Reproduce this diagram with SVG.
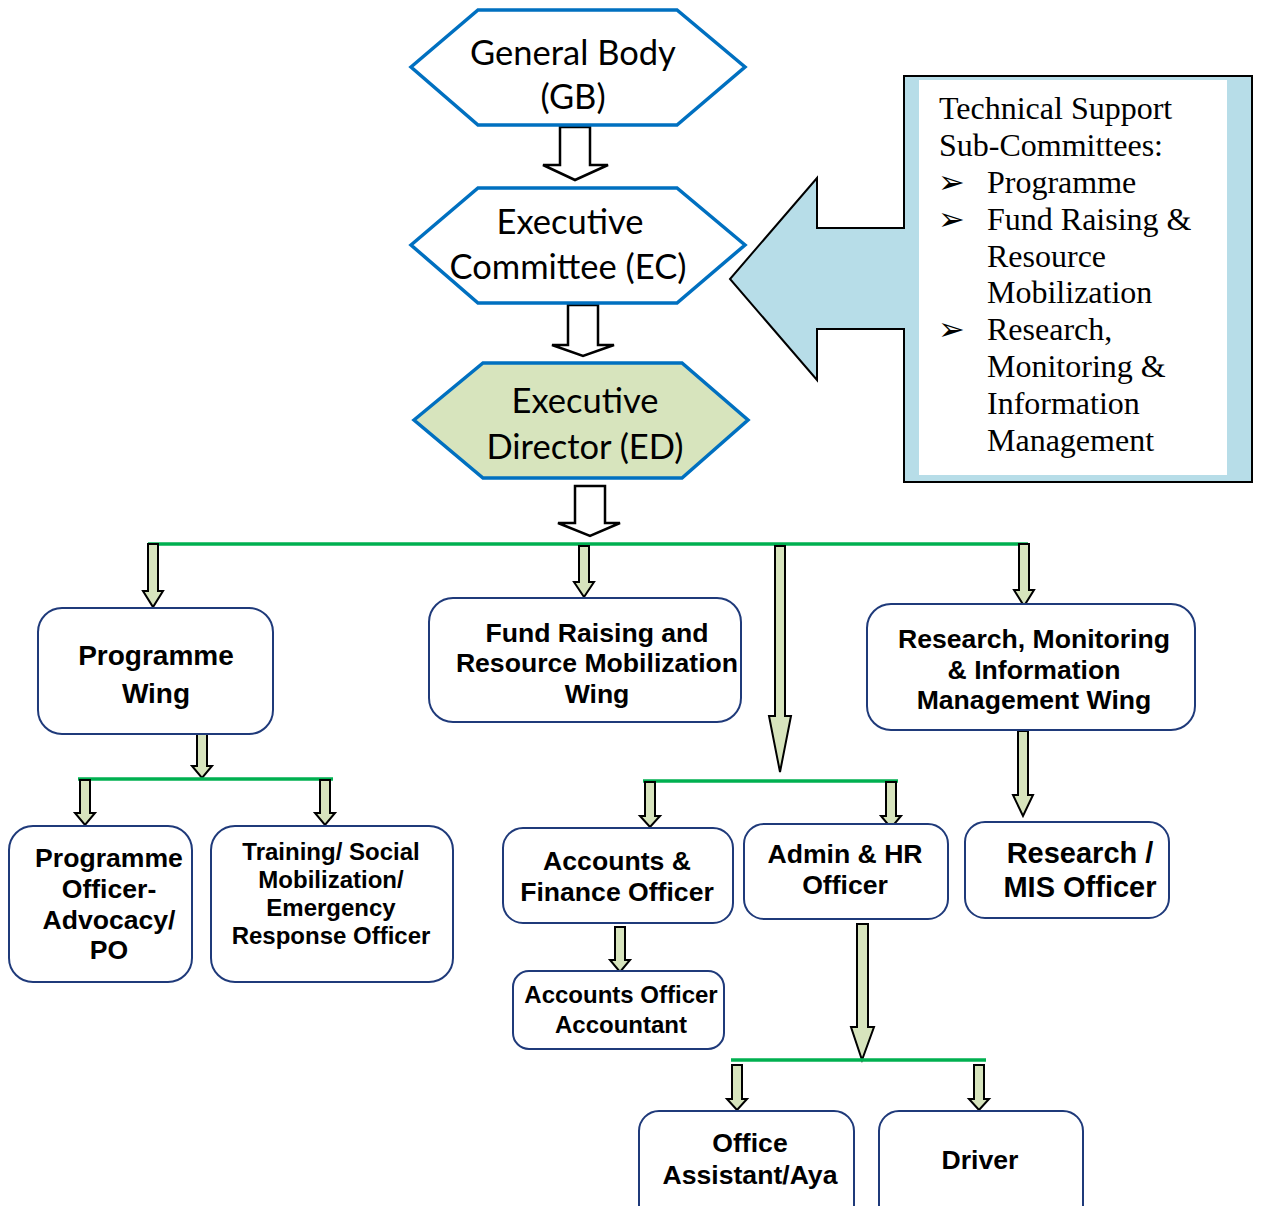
<svg xmlns="http://www.w3.org/2000/svg" width="1261" height="1206" viewBox="0 0 1261 1206">
<style>
.hex{stroke:#0070c0;stroke-width:3.5;fill:#fff}
.hexg{fill:#d7e4bd}
.ht{font-family:Lato,"Open Sans",sans-serif;font-size:34.5px;text-anchor:middle;fill:#000}
.box{fill:#fff;stroke:#1f3a7a;stroke-width:2}
.bt{font-family:"Liberation Sans",Arial,sans-serif;font-weight:bold;font-size:26.6px;text-anchor:middle;fill:#000}
.s24{font-size:24px}
.s28{font-size:28px}
.s29{font-size:29px}
.hol{fill:#fff;stroke:#000;stroke-width:2.5}
.garr{fill:#d7e4bd;stroke:#000;stroke-width:2}
.gl{stroke:#00b050;stroke-width:3.5;fill:none}
.tt{font-family:"Liberation Serif","Times New Roman",serif;font-size:32px;fill:#000}
.bul{font-family:"DejaVu Sans",sans-serif;font-size:32px;fill:#000}
</style>
<g id="connectors">
<path class="hol" d="M560,127 H590 V165 H608 L575,180 L543,165 H560 Z"/>
<path class="hol" d="M568,305 H598 V345 H614 L583,356 L552,345 H568 Z"/>
<path class="hol" d="M575,486 H605 V523 H620 L590,536 L558,523 H575 Z"/>
<line class="gl" x1="148" y1="544" x2="1028" y2="544"/>
<path class="garr" d="M148,544 H158 V591 H163 L153,607 L143,591 H148 Z"/>
<path class="garr" d="M579,546 H589 V582 H594 L584,597 L574,582 H579 Z"/>
<path class="garr" d="M775,546 H785 V716 H791 L780,772 L769,716 H775 Z"/>
<path class="garr" d="M1019,544 H1029 V590 H1034 L1024,606 L1014,590 H1019 Z"/>
<path class="garr" d="M197,734 H207 V766 H212 L202,778 L192,766 H197 Z"/>
<line class="gl" x1="78" y1="779" x2="333" y2="779"/>
<path class="garr" d="M80,780 H90 V813 H95 L85,825 L75,813 H80 Z"/>
<path class="garr" d="M320,780 H330 V813 H335 L325,825 L315,813 H320 Z"/>
<line class="gl" x1="643" y1="781" x2="898" y2="781"/>
<path class="garr" d="M645,782 H655 V816 H660 L650,827 L640,816 H645 Z"/>
<path class="garr" d="M886,782 H896 V816 H901 L891,828 L881,816 H886 Z"/>
<path class="garr" d="M615,927 H625 V960 H630 L620,972 L610,960 H615 Z"/>
<path class="garr" d="M857,924 H868 V1027 H874 L862,1060 L851,1027 H857 Z"/>
<line class="gl" x1="731" y1="1060" x2="986" y2="1060"/>
<path class="garr" d="M732,1065 H742 V1099 H747 L737,1110 L727,1099 H732 Z"/>
<path class="garr" d="M974,1065 H984 V1099 H989 L979,1110 L969,1099 H974 Z"/>
<path class="garr" d="M1018,731 H1028 V795 H1033 L1023,816 L1013,795 H1018 Z"/>
</g>
<g id="gb">
<polygon class="hex" points="411,67 478,10 677,10 745,67 677,125 478,125"/>
<text class="ht" x="573" y="65">General Body</text>
<text class="ht" x="573" y="109">(GB)</text>
</g>
<g id="ec">
<polygon class="hex" points="411,245 478,188 677,188 745,245 677,303 478,303"/>
<text class="ht" x="570" y="234">Executive</text>
<text class="ht" x="568" y="279">Committee (EC)</text>
</g>
<g id="ed">
<polygon class="hex hexg" points="414,420 483,363 682,363 748,420 682,478 483,478"/>
<text class="ht" x="585" y="413">Executive</text>
<text class="ht" x="585" y="459">Director (ED)</text>
</g>
<g id="tech-support">
<path d="M904,76 H1252 V482 H904 V329 H817 V380 L730,279 L817,178 V228 H904 Z" fill="#b7dde8" stroke="#000" stroke-width="2"/>
<rect x="919" y="80" width="308" height="395" fill="#fff"/>
<text class="tt" x="939" y="119">Technical Support</text>
<text class="tt" x="939" y="156">Sub-Committees:</text>
<text class="bul" x="938" y="193">➢</text>
<text class="tt" x="987" y="193">Programme</text>
<text class="bul" x="938" y="230">➢</text>
<text class="tt" x="987" y="230">Fund Raising &amp;</text>
<text class="tt" x="987" y="267">Resource</text>
<text class="tt" x="987" y="303">Mobilization</text>
<text class="bul" x="938" y="340">➢</text>
<text class="tt" x="987" y="340">Research,</text>
<text class="tt" x="987" y="377">Monitoring &amp;</text>
<text class="tt" x="987" y="414">Information</text>
<text class="tt" x="987" y="451">Management</text>
</g>
<g id="programme-wing">
<rect class="box" x="38" y="608" width="235" height="126" rx="24"/>
<text class="bt s28" x="156" y="665">Programme</text>
<text class="bt s28" x="156" y="703">Wing</text>
</g>
<g id="fund-raising-wing">
<rect class="box" x="429" y="598" width="312" height="124" rx="24"/>
<text class="bt" x="597" y="642">Fund Raising and</text>
<text class="bt" x="597" y="672">Resource Mobilization</text>
<text class="bt" x="597" y="703">Wing</text>
</g>
<g id="research-wing">
<rect class="box" x="867" y="604" width="328" height="126" rx="24"/>
<text class="bt" x="1034" y="648">Research, Monitoring</text>
<text class="bt" x="1034" y="679">&amp; Information</text>
<text class="bt" x="1034" y="709">Management Wing</text>
</g>
<g id="programme-officer">
<rect class="box" x="9" y="826" width="183" height="156" rx="24"/>
<text class="bt" x="109" y="867">Programme</text>
<text class="bt" x="109" y="898">Officer-</text>
<text class="bt" x="109" y="929">Advocacy/</text>
<text class="bt" x="109" y="959">PO</text>
</g>
<g id="training-officer">
<rect class="box" x="211" y="826" width="242" height="156" rx="24"/>
<text class="bt s24" x="331" y="860">Training/ Social</text>
<text class="bt s24" x="331" y="888">Mobilization/</text>
<text class="bt s24" x="331" y="916">Emergency</text>
<text class="bt s24" x="331" y="944">Response Officer</text>
</g>
<g id="accounts-finance">
<rect class="box" x="503" y="828" width="230" height="95" rx="20"/>
<text class="bt" x="617" y="870">Accounts &amp;</text>
<text class="bt" x="617" y="901">Finance Officer</text>
</g>
<g id="admin-hr">
<rect class="box" x="744" y="824" width="204" height="95" rx="20"/>
<text class="bt" x="845" y="863">Admin &amp; HR</text>
<text class="bt" x="845" y="894">Officer</text>
</g>
<g id="accounts-officer">
<rect class="box" x="513" y="971" width="211" height="78" rx="16"/>
<text class="bt s24" x="621" y="1003">Accounts Officer</text>
<text class="bt s24" x="621" y="1033">Accountant</text>
</g>
<g id="research-mis">
<rect class="box" x="965" y="822" width="204" height="96" rx="20"/>
<text class="bt s29" x="1080" y="863">Research /</text>
<text class="bt s29" x="1080" y="897">MIS Officer</text>
</g>
<g id="office-assistant">
<rect class="box" x="639" y="1111" width="215" height="120" rx="20"/>
<text class="bt" x="750" y="1152">Office</text>
<text class="bt" x="750" y="1184">Assistant/Aya</text>
</g>
<g id="driver">
<rect class="box" x="879" y="1111" width="204" height="120" rx="20"/>
<text class="bt" x="980" y="1169">Driver</text>
</g>
</svg>
